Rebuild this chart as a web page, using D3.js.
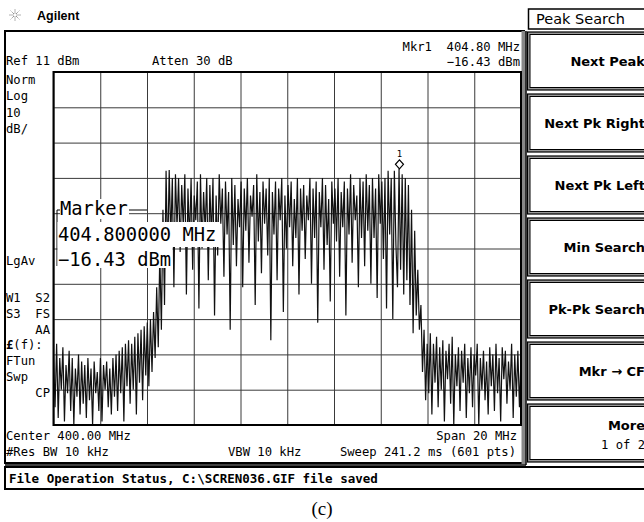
<!DOCTYPE html>
<html>
<head>
<meta charset="utf-8">
<script src="https://cdn.jsdelivr.net/npm/d3@7"></script>
<style>
  body { margin: 0; background: #fff; }
  .mono { font-family: "DejaVu Sans Mono", monospace; font-size: 12.2px; fill: #000; }
  .key { font-family: "DejaVu Sans", sans-serif; font-weight: bold; font-size: 13px; fill: #000; }
</style>
</head>
<body>
<svg id="screen" width="644" height="522"></svg>
<script>
// sweep settings shown on screen
const startMHz = 390, stopMHz = 410;
const refDbm = 11, bottomDbm = -89;
const markerFreq = 404.80, markerDbm = -16.43;

// trace (dBm), evenly spread over the span
const traceDbm = [
  -69,-84,-66,-87,-70,-79,-67,-88,-72,-80,-68,-85,-70,-89,-73,-81,-69,-86,-71,-83,
  -72,-87,-70,-82,-73,-89,-71,-80,-74,-85,-70,-88,-72,-79,-71,-84,-73,-86,-70,-81,
  -69,-85,-68,-80,-67,-88,-66,-78,-65,-83,-66,-79,-64,-86,-63,-77,-62,-82,-61,-75,
  -60,-78,-59,-74,-57,-70,-50,-67,-40,-62,-28,-55,-17,-42,-16.8,-36,-19,-50,-18,-33,
  -19,-40,-21,-33,-18,-52,-22,-37,-19,-45,-24,-31,-20,-56,-18,-39,-23,-34,-19,-48,
  -21,-36,-19,-58,-24,-41,-18,-32,-22,-47,-20,-35,-23,-62,-19,-38,-21,-44,-25,-33,
  -20,-50,-22,-34,-19,-43,-24,-30,-21,-55,-18,-37,-23,-46,-20,-32,-22,-41,-19,-65,
  -23,-35,-20,-48,-22,-31,-19,-57,-24,-39,-21,-33,-20,-44,-25,-36,-19,-52,-22,-34,
  -21,-42,-24,-31,-19,-49,-22,-36,-20,-60,-23,-33,-19,-45,-21,-38,-25,-54,-20,-32,
  -22,-37,-19,-47,-23,-33,-20,-58,-22,-35,-18,-43,-21,-31,-24,-50,-19,-36,-20,-44,
  -18,-34,-21,-49,-19,-36,-22,-53,-18,-32,-20,-42,-19,-56,-17,-35,-19,-59,-17,-38,
  -50,-16.4,-45,-18,-52,-19,-48,-21,-55,-28,-63,-34,-58,-45,-62,-55,-74,-62,-82,-66,
  -80,-63,-86,-66,-77,-64,-84,-67,-79,-65,-88,-68,-76,-66,-83,-64,-89,-69,-78,-67,
  -85,-68,-77,-66,-87,-70,-80,-67,-84,-69,-75,-66,-89,-70,-79,-68,-82,-71,-86,-67,
  -78,-69,-85,-66,-80,-70,-88,-67,-76,-68,-83,-71,-79,-66,-87,-69,-81,-68,-84,-70
];

const topLeftLabels = ["Norm", "Log", "10", "dB/"];
const lowLeftLabels = ["W1  S2", "S3  FS", "    AA", "£(f):", "FTun", "Swp", "    CP"];
const softkeys = ["Next Peak", "Next Pk Right", "Next Pk Left", "Min Search", "Pk-Pk Search", "Mkr \u2192 CF", "More"];
const markerLines = ["404.800000 MHz", "\u221216.43 dBm"];

const svg = d3.select("#screen");

// plot area of the analyzer screen
const plotL = 53.5, plotR = 521, plotT = 72, plotB = 425;
const x = d3.scaleLinear().domain([startMHz, stopMHz]).range([plotL, plotR]);
const y = d3.scaleLinear().domain([bottomDbm, refDbm]).range([plotB, plotT]);

// header
const star = svg.append("g").attr("transform", "translate(15,15)");
d3.range(8).forEach(k => {
  const a = k * Math.PI / 4;
  star.append("line")
    .attr("x1", 1.5 * Math.cos(a)).attr("y1", 1.5 * Math.sin(a))
    .attr("x2", 6 * Math.cos(a)).attr("y2", 6 * Math.sin(a))
    .attr("stroke", "#666").attr("stroke-width", 1).attr("stroke-dasharray", "1,1");
});
svg.append("text").attr("x", 37).attr("y", 20)
  .style("font-family", "Liberation Sans, Arial, sans-serif").style("font-weight", "bold").style("font-size", "12.5px")
  .text("Agilent");

// instrument frame
svg.append("rect").attr("x", 5).attr("y", 31).attr("width", 519).attr("height", 432)
  .attr("fill", "none").attr("stroke", "#000").attr("stroke-width", 2);
svg.append("rect").attr("x", 521.5).attr("y", 31).attr("width", 4).attr("height", 433).attr("fill", "#888");
svg.append("line").attr("x1", 526).attr("x2", 526).attr("y1", 31).attr("y2", 465).attr("stroke", "#000").attr("stroke-width", 1.5);
svg.append("line").attr("x1", 5).attr("x2", 526).attr("y1", 465).attr("y2", 465).attr("stroke", "#000").attr("stroke-width", 1.5);

// grid through axes
const grid = svg.append("g");
grid.append("g").attr("transform", `translate(0,${plotB})`)
  .call(d3.axisBottom(x).tickValues(d3.range(startMHz, stopMHz + 0.01, 2)).tickSize(-(plotB - plotT)).tickFormat(""));
grid.append("g").attr("transform", `translate(${plotL},0)`)
  .call(d3.axisLeft(y).tickValues(d3.range(bottomDbm, refDbm + 0.01, 10)).tickSize(-(plotR - plotL)).tickFormat(""));
grid.selectAll(".domain").remove();
grid.selectAll(".tick line").attr("stroke", "#3a3a3a").attr("stroke-width", 1);

// trace
svg.append("clipPath").attr("id", "plotClip")
  .append("rect").attr("x", plotL).attr("y", plotT).attr("width", plotR - plotL).attr("height", plotB - plotT);
const n = traceDbm.length;
const line = d3.line()
  .x((d, i) => x(startMHz + i * (stopMHz - startMHz) / (n - 1)))
  .y(d => y(d));
svg.append("path").datum(traceDbm)
  .attr("clip-path", "url(#plotClip)")
  .attr("d", line)
  .attr("fill", "none").attr("stroke", "#111").attr("stroke-width", 1.2);

svg.append("rect").attr("x", plotL).attr("y", plotT).attr("width", plotR - plotL).attr("height", plotB - plotT)
  .attr("fill", "none").attr("stroke", "#000").attr("stroke-width", 2);

// marker diamond
const mx = x(markerFreq), my = y(markerDbm);
svg.append("path")
  .attr("d", `M${mx},${my} L${mx + 4},${my - 4.5} L${mx},${my - 9} L${mx - 4},${my - 4.5} Z`)
  .attr("fill", "#fff").attr("stroke", "#000").attr("stroke-width", 1.2);
svg.append("text").attr("class", "mono").attr("x", mx).attr("y", my - 12)
  .attr("text-anchor", "middle").style("font-size", "9px").text("1");

// marker readout on the trace
const big = "18.8px";
svg.append("line").attr("x1", 57).attr("x2", 147).attr("y1", 210).attr("y2", 210).attr("stroke", "#000");
svg.append("line").attr("x1", 57).attr("x2", 57).attr("y1", 210).attr("y2", 266).attr("stroke", "#000");
svg.append("rect").attr("x", 60).attr("y", 199).attr("width", 69).attr("height", 20).attr("fill", "#fff");
svg.append("rect").attr("x", 57.5).attr("y", 222).attr("width", 162).attr("height", 25).attr("fill", "#fff");
svg.append("rect").attr("x", 57.5).attr("y", 247).attr("width", 115).attr("height", 21).attr("fill", "#fff");
svg.append("text").attr("class", "mono").attr("x", 60).attr("y", 215).style("font-size", big).text("Marker");
markerLines.forEach((t, i) => {
  svg.append("text").attr("class", "mono").attr("x", 58).attr("y", 241 + i * 25).style("font-size", big).text(t);
});

// screen annotations
const mono = (tx, ty, t, anchor) => svg.append("text").attr("class", "mono")
  .attr("x", tx).attr("y", ty).attr("text-anchor", anchor || "start")
  .style("white-space", "pre").text(t);

mono(6, 65, "Ref 11 dBm");
mono(152, 65, "Atten 30 dB");
mono(520, 51, "Mkr1  404.80 MHz", "end");
mono(520, 66, "\u221216.43 dBm", "end");
topLeftLabels.forEach((t, i) => mono(6, 84 + i * 16.3, t));
mono(6, 265, "LgAv");
lowLeftLabels.forEach((t, i) => {
  const el = mono(6, 302 + i * 15.8, t);
  if (t.startsWith("£")) {
    el.text(null);
    el.append("tspan").style("font-weight", "bold").text("£");
    el.append("tspan").text("(f):");
  }
});
mono(6, 440, "Center 400.00 MHz");
mono(517, 440, "Span 20 MHz", "end");
mono(6, 456, "#Res BW 10 kHz");
mono(228, 456, "VBW 10 kHz");
mono(516, 456, "Sweep 241.2 ms (601 pts)", "end");

// softkey panel
svg.append("rect").attr("x", 528.5).attr("y", 9).attr("width", 120).attr("height", 20)
  .attr("fill", "#fff").attr("stroke", "#000").attr("stroke-width", 1.5);
svg.append("text").attr("x", 536).attr("y", 24)
  .style("font-family", "DejaVu Sans, sans-serif").style("font-size", "14.5px").text("Peak Search");

softkeys.forEach((label, i) => {
  const ky = 32 + i * 62;
  svg.append("rect").attr("x", 527.5).attr("y", ky).attr("width", 125).attr("height", 58)
    .attr("fill", "#999").attr("stroke", "#000").attr("stroke-width", 1.2);
  svg.append("rect").attr("x", 530).attr("y", ky + 2.5).attr("width", 125).attr("height", 53)
    .attr("fill", "#fff").attr("stroke", "#000").attr("stroke-width", 1);
  const ty = label === "More" ? ky + 26 : ky + 34;
  svg.append("text").attr("class", "key").attr("x", 645).attr("y", ty)
    .attr("text-anchor", "end").text(label);
});
mono(645, 32 + 6 * 62 + 45, "1 of 2", "end");

// status line
svg.append("rect").attr("x", 5).attr("y", 467).attr("width", 645).attr("height", 22)
  .attr("fill", "#fff").attr("stroke", "#000").attr("stroke-width", 2);
svg.append("text").attr("x", 9).attr("y", 483)
  .style("font-family", "DejaVu Sans Mono, monospace").style("font-weight", "bold").style("font-size", "12.5px")
  .text("File Operation Status, C:\\SCREN036.GIF file saved");

// figure caption
svg.append("text").attr("x", 322).attr("y", 515).attr("text-anchor", "middle")
  .style("font-family", "Liberation Serif, Times New Roman, serif").style("font-size", "19px")
  .text("(c)");
</script>
</body>
</html>
